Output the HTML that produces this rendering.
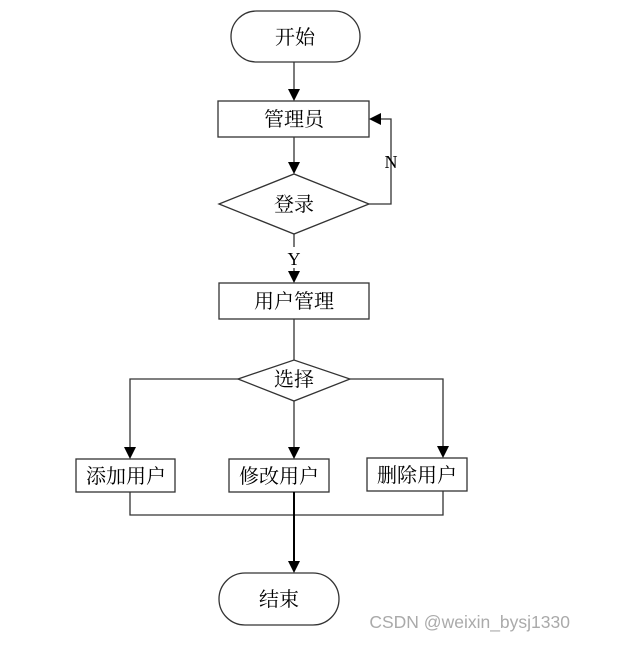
<!DOCTYPE html>
<html><head><meta charset="utf-8"><style>
html,body{margin:0;padding:0;background:#fff;}
svg text{font-family:"Liberation Serif","Noto Serif CJK SC","Noto Sans CJK SC",serif;fill:#000;}
</style></head><body>
<svg width="622" height="641" viewBox="0 0 622 641" xmlns="http://www.w3.org/2000/svg">
<g stroke="#333" stroke-width="1.3" fill="none">
<rect x="231" y="11" width="129" height="51" rx="25.5" fill="#fff"/>
<rect x="218" y="101" width="151" height="36" fill="#fff"/>
<polygon points="219,204 294,174 369,204 294,234" fill="#fff"/>
<rect x="219" y="283" width="150" height="36" fill="#fff"/>
<polygon points="238,379 294,360 350,379 294,401" fill="#fff"/>
<rect x="76" y="459" width="99" height="33" fill="#fff"/>
<rect x="229" y="459" width="100" height="33" fill="#fff"/>
<rect x="367" y="458" width="100" height="33" fill="#fff"/>
<rect x="219" y="573" width="120" height="52" rx="26" fill="#fff"/>
<path d="M294,62 V89"/>
<path d="M294,137 V162"/>
<path d="M369,204 H391 V119 H381"/>
<path d="M294,234 V247 M294,268 V271"/>
<path d="M294,319 V360"/>
<path d="M238,379 H130 V447"/>
<path d="M294,401 V447"/>
<path d="M350,379 H443 V446"/>
<path d="M130,492 V515 H443 V491"/>
<path d="M294,492 V561" stroke="#000" stroke-width="2"/>
</g>
<g fill="#000">
<path d="M288,89 L300,89 L294,101 Z"/>
<path d="M288,162 L300,162 L294,174 Z"/>
<path d="M381,113 L381,125 L369,119 Z"/>
<path d="M288,271 L300,271 L294,283 Z"/>
<path d="M124,447 L136,447 L130,459 Z"/>
<path d="M288,447 L300,447 L294,459 Z"/>
<path d="M437,446 L449,446 L443,458 Z"/>
<path d="M288,561 L300,561 L294,573 Z"/>
</g>
<g font-size="20" text-anchor="middle">
<text x="295" y="44">开始</text>
<text x="294" y="126">管理员</text>
<text x="294" y="211">登录</text>
<text x="294" y="308">用户管理</text>
<text x="294" y="386">选择</text>
<text x="126" y="483">添加用户</text>
<text x="279" y="483">修改用户</text>
<text x="417" y="482">删除用户</text>
<text x="279" y="606">结束</text>
</g>
<text x="391" y="168" font-size="18" text-anchor="middle">N</text>
<text x="294" y="265" font-size="18" text-anchor="middle">Y</text>
<text x="570" y="628" font-size="17.5" text-anchor="end" style="font-family:'Liberation Sans',sans-serif;fill:#aaa">CSDN @weixin_bysj1330</text>
</svg>
</body></html>
